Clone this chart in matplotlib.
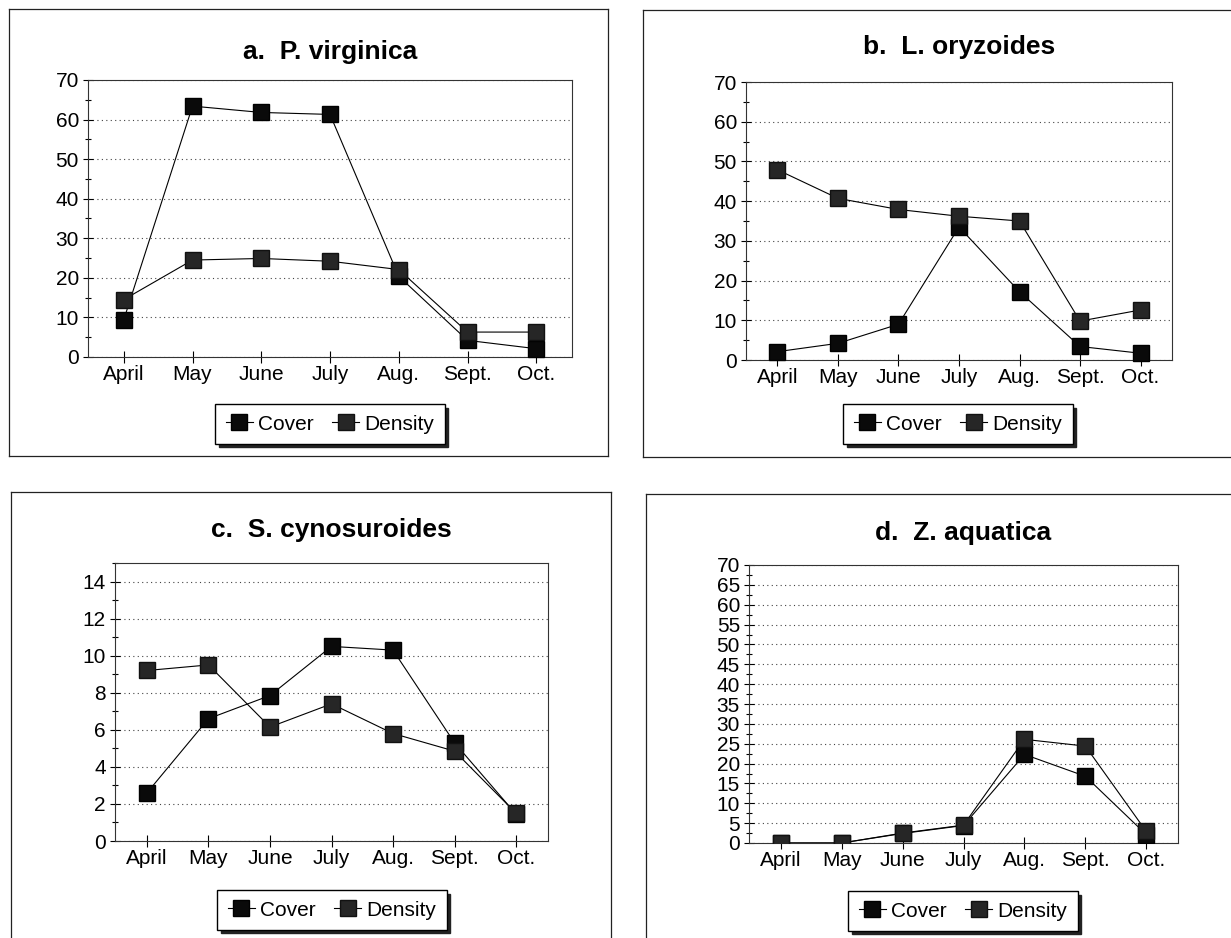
import matplotlib
matplotlib.use('Agg')
import matplotlib.pyplot as plt
from matplotlib.ticker import MultipleLocator, AutoMinorLocator
from matplotlib.lines import Line2D

plt.rcParams['font.family'] = ['Liberation Sans', 'DejaVu Sans']

months = ['April', 'May', 'June', 'July', 'Aug.', 'Sept.', 'Oct.']

# values
a_cover = [9.4, 63.4, 61.8, 61.3, 20.4, 4.2, 2.1]
a_density = [14.5, 24.5, 24.9, 24.2, 22.1, 6.3, 6.3]

b_cover = [2.1, 4.2, 9.0, 33.5, 17.2, 3.4, 1.7]
b_density = [47.9, 40.7, 37.9, 36.2, 35.0, 9.8, 12.6]

c_cover = [2.6, 6.6, 7.85, 10.5, 10.3, 5.3, 1.45]
c_density = [9.2, 9.5, 6.15, 7.4, 5.8, 4.85, 1.5]

d_cover = [0, 0, 2.4, 4.4, 22.3, 16.8, 2.1]
d_density = [0, 0, 2.5, 4.5, 26.1, 24.4, 2.9]

W, H = 1231, 938
fig = plt.figure(figsize=(W / 100, H / 100), dpi=100)


def px_axes(l, r, t, b):
    return [l / W, 1 - b / H, (r - l) / W, (b - t) / H]


def px_line(x0, y0, x1, y1):
    fig.add_artist(Line2D([x0 / W, x1 / W], [1 - y0 / H, 1 - y1 / H],
                          transform=fig.transFigure, color='#222', lw=0.9))


# panel frames
px_line(9, 9, 608, 9); px_line(9, 9, 9, 456); px_line(608, 9, 608, 456); px_line(9, 456, 608, 456)
px_line(643, 10, 1231, 10); px_line(643, 10, 643, 457); px_line(643, 457, 1231, 457)
px_line(11, 492, 611, 492); px_line(11, 492, 11, 938); px_line(611, 492, 611, 938)
px_line(646, 494, 1231, 494); px_line(646, 494, 646, 938)

panels = [
    ('a.  P. virginica', a_cover, a_density, (88, 572, 80, 357), 70, 10, (330, 52), (330, 424), False),
    ('b.  L. oryzoides', b_cover, b_density, (746, 1172, 82, 360), 70, 10, (959, 47), (958, 424), False),
    ('c.  S. cynosuroides', c_cover, c_density, (115, 548, 563, 841), 15, 2, (331, 530), (332, 910), False),
    ('d.  Z. aquatica', d_cover, d_density, (749, 1178, 565, 843), 70, 5, (963, 533), (963, 911), True),
]

x = list(range(len(months)))
for title, cover, density, box, ymax, step, tpos, lpos, clip in panels:
    ax = fig.add_axes(px_axes(*box))
    ax.plot(x, cover, color='black', lw=0.8, marker='s', ms=12,
            mfc='#0a0a0a', mec='black', label='Cover', zorder=3, clip_on=clip)
    ax.plot(x, density, color='black', lw=0.8, marker='s', ms=12,
            mfc='#262626', mec='#111', label='Density', zorder=3, clip_on=clip)
    ax.set_xlim(-0.52, 6.52)
    ax.set_ylim(0, ymax)
    ax.set_xticks(x)
    ax.set_xticklabels(months)
    ax.yaxis.set_major_locator(MultipleLocator(step))
    ax.yaxis.set_minor_locator(AutoMinorLocator(2))
    ax.yaxis.grid(True, linestyle=(0, (1, 3)), color='#444', lw=0.8)
    ax.tick_params(axis='y', which='major', direction='inout', length=7, width=0.8,
                   labelsize=15, pad=3)
    ax.tick_params(axis='y', which='minor', direction='inout', length=5, width=0.8)
    ax.tick_params(axis='x', direction='inout', length=9, width=0.8, labelsize=15, pad=1)
    for s in ax.spines.values():
        s.set_linewidth(0.8)
        s.set_color('#333')
    fig.text(tpos[0] / W, 1 - tpos[1] / H, title, ha='center', va='center',
             fontsize=19, fontweight='bold')
    ax.legend(loc='center', bbox_to_anchor=(lpos[0] / W, 1 - lpos[1] / H),
              bbox_transform=fig.transFigure, ncol=2, fontsize=15,
              frameon=True, fancybox=False, framealpha=1, edgecolor='black',
              shadow={'ox': 2.5, 'oy': -2.5, 'color': '#222', 'alpha': 1},
              handlelength=1.3, handletextpad=0.25, columnspacing=0.9,
              borderpad=0.5, markerscale=0.95)

fig.savefig('out.png', dpi=100)
